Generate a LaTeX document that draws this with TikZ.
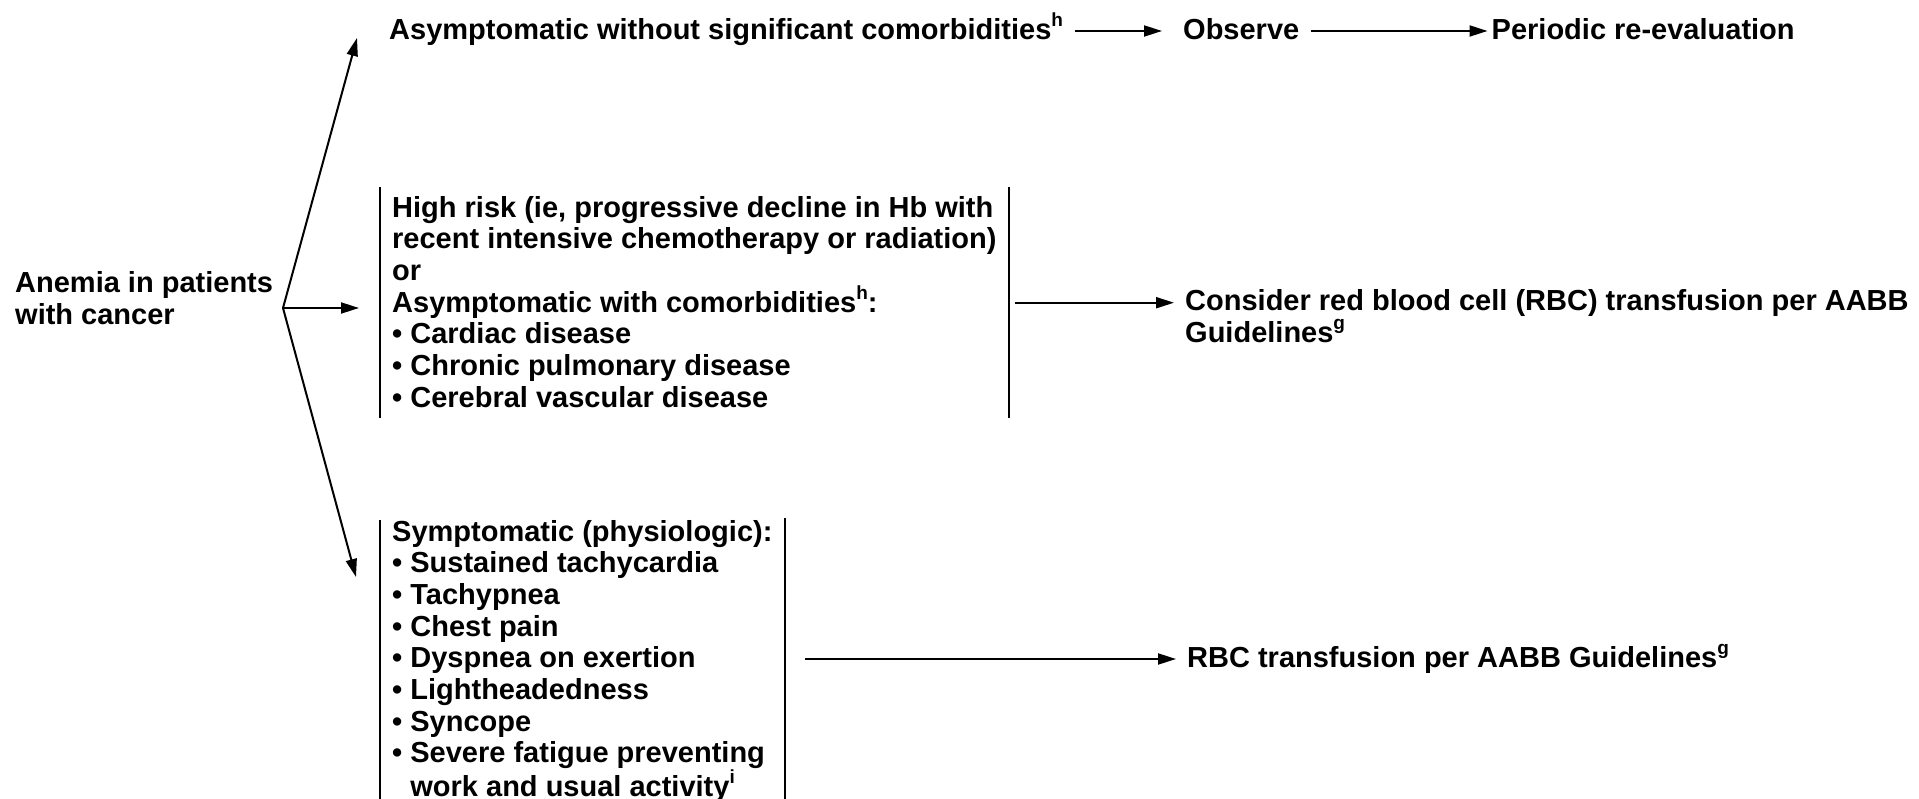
\documentclass[tikz,border=0pt]{standalone}
\usepackage{fontspec}
\setmainfont{Liberation Sans}
\usetikzlibrary{arrows.meta}
\newcommand{\blk}[1]{\parbox[t]{1000pt}{#1}}
\newcommand{\supr}[1]{\raisebox{13pt}{\fontsize{19}{19}\selectfont #1}}
\begin{document}
\begin{tikzpicture}[x=1pt,y=-1pt,
  txt/.style={anchor=base west, inner sep=0pt, font=\fontsize{29}{31.67}\selectfont\bfseries},
  arr/.style={line width=2pt, -{Triangle[length=18pt,width=11pt]}},
  side/.style={line width=2pt}]
\useasboundingbox (0,0) rectangle (1919,799);

% texts
\node[txt] (anemia) at (15,292.5) {\blk{Anemia in patients\\with cancer}};
\node[txt] (asym) at (389,40) {Asymptomatic without significant comorbidities\supr{h}};
\node[txt] (obs) at (1183,40) {Observe};
\node[txt] (per) at (1491.5,40) {Periodic re-evaluation};
\node[txt] (mid) at (392,217.3) {\blk{High risk (ie, progressive decline in Hb with\\recent intensive chemotherapy or radiation)\\or\\Asymptomatic with comorbidities\supr{h}:\\• Cardiac disease\\• Chronic pulmonary disease\\• Cerebral vascular disease}};
\node[txt] (sym) at (392,541) {\blk{Symptomatic (physiologic):\\• Sustained tachycardia\\• Tachypnea\\• Chest pain\\• Dyspnea on exertion\\• Lightheadedness\\• Syncope\\• Severe fatigue preventing\\\phantom{•\ }work and usual activity\supr{i}}};
\node[txt] (cons) at (1185,311) {\blk{Consider red blood cell (RBC) transfusion per AABB\\Guidelines\supr{g}}};
\node[txt] (rbc) at (1187,667) {RBC transfusion per AABB Guidelines\supr{g}};

% box sides
\draw[side] (380,187) -- (380,418);
\draw[side] (1009,187) -- (1009,418);
\draw[side] (380,520) -- (380,799);
\draw[side] (785,518) -- (785,799);

% fork
\coordinate (fork) at (283,308);
\coordinate (tTop) at (357,38);
\coordinate (tMid) at (359,308);
\coordinate (tBot) at (356,577);
\draw[arr] (fork) -- (tTop);
\draw[arr] (fork) -- (tMid);
\draw[arr] (fork) -- (tBot);

% top row arrows
\draw[arr] ([xshift=12pt,yshift=9pt]asym.base east) -- ([xshift=-21pt,yshift=9pt]obs.base west);
\draw[arr] ([xshift=12pt,yshift=9pt]obs.base east) -- ([xshift=-4pt,yshift=9pt]per.base west);

% box outputs
\coordinate (midOut) at (1015,302.7);
\coordinate (botOut) at (805,659);
\draw[arr, shorten >=11pt] (midOut) -- (cons.west |- midOut);
\draw[arr, shorten >=11pt] (botOut) -- (rbc.west |- botOut);
\end{tikzpicture}
\end{document}
